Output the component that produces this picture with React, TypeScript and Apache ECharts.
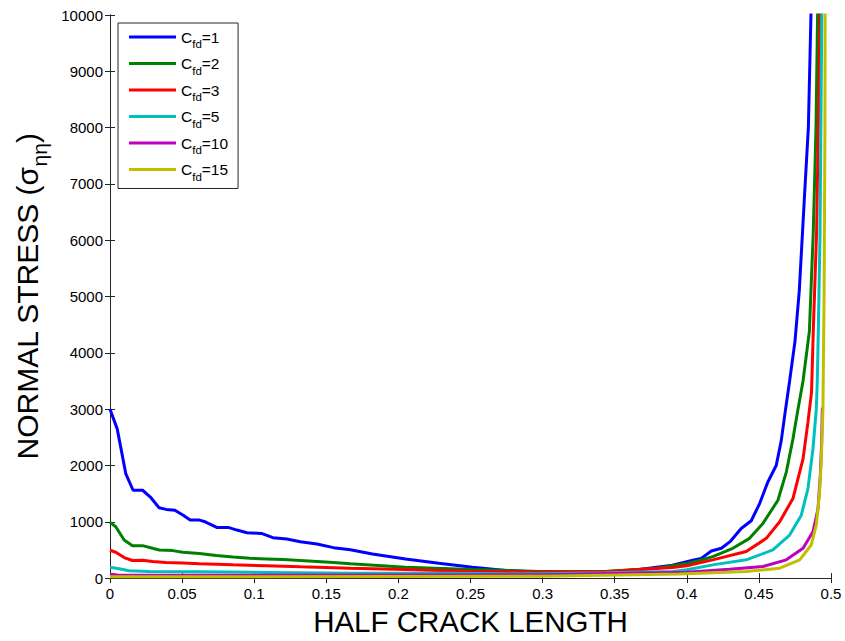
import React, { useEffect, useRef } from "react";
import * as echarts from "echarts";

const seriesNames = ["Cfd=1", "Cfd=2", "Cfd=3", "Cfd=5", "Cfd=10", "Cfd=15"];
const seriesColors = ["#0000FF", "#008000", "#FF0000", "#00BFBF", "#BF00BF", "#BFBF00"];

const xTicks = { min: 0, max: 0.5, interval: 0.05 };
const yTicks = { min: 0, max: 10000, interval: 1000 };

const cfd1: [number, number][] = [
  [0, 3000], [0.005, 2650], [0.011, 1850], [0.016, 1560], [0.0226, 1560], [0.028, 1440],
  [0.034, 1250], [0.039, 1220], [0.045, 1205], [0.0505, 1120], [0.0556, 1030], [0.062, 1030],
  [0.066, 1000], [0.074, 900], [0.082, 900], [0.088, 853], [0.095, 806], [0.105, 794],
  [0.113, 718], [0.1226, 694], [0.132, 647], [0.1435, 606], [0.155, 541], [0.1667, 505],
  [0.182, 429], [0.205, 341], [0.228, 265], [0.2514, 194], [0.2745, 135], [0.298, 106],
  [0.321, 106], [0.344, 106], [0.367, 153], [0.39, 230], [0.4, 290], [0.405, 320],
  [0.41, 350], [0.417, 480], [0.424, 529], [0.43, 647], [0.4377, 882], [0.4447, 1018],
  [0.4505, 1324], [0.4562, 1706], [0.462, 2000], [0.4655, 2441], [0.4685, 3000], [0.4713, 3500],
  [0.475, 4200], [0.478, 5100], [0.4815, 6730], [0.4843, 8000], [0.4861, 10000], [0.4875, 11500],
];

const cfd2: [number, number][] = [
  [0, 990], [0.004, 912], [0.0098, 676], [0.0156, 576], [0.0226, 576], [0.0295, 529],
  [0.0342, 500], [0.0435, 488], [0.0505, 459], [0.062, 435], [0.0737, 400], [0.0853, 376],
  [0.097, 353], [0.1086, 341], [0.12, 329], [0.132, 312], [0.1435, 294], [0.155, 276],
  [0.1667, 253], [0.205, 194], [0.2514, 153], [0.2977, 118], [0.344, 118], [0.379, 176],
  [0.4, 260], [0.4088, 312], [0.418, 382], [0.4319, 529], [0.4435, 706], [0.4528, 971],
  [0.4632, 1382], [0.469, 1882], [0.4736, 2470], [0.4771, 3000], [0.4806, 3500], [0.485, 4380],
  [0.4877, 6140], [0.4896, 8000], [0.4907, 10000], [0.4917, 11500],
];

const cfd3: [number, number][] = [
  [0, 494], [0.004, 459], [0.0098, 365], [0.0156, 312], [0.0226, 318], [0.0295, 294],
  [0.0388, 276], [0.0505, 270], [0.062, 253], [0.0853, 235], [0.1086, 218], [0.132, 200],
  [0.1667, 176], [0.205, 153], [0.2514, 118], [0.2977, 106], [0.344, 118], [0.39, 190],
  [0.4, 220], [0.418, 324], [0.4412, 471], [0.4551, 706], [0.4644, 1000], [0.4736, 1412],
  [0.4806, 2118], [0.484, 2765], [0.4865, 3300], [0.4877, 4380], [0.49, 6140], [0.4912, 8000],
  [0.4924, 10000], [0.4932, 11500],
];

const cfd5: [number, number][] = [
  [0, 194], [0.0063, 165], [0.0133, 129], [0.027, 118], [0.062, 112], [0.1086, 100],
  [0.1667, 88], [0.2282, 85], [0.2977, 76], [0.344, 94], [0.3903, 118], [0.4, 150],
  [0.418, 235], [0.4412, 324], [0.4597, 500], [0.4713, 765], [0.4794, 1118], [0.484, 1588],
  [0.4875, 2294], [0.4898, 3000], [0.4905, 3500], [0.4912, 4380], [0.4924, 6140], [0.4935, 9660],
  [0.4942, 11500],
];

const cfd10: [number, number][] = [
  [0, 70], [0.005, 55], [0.02, 50], [0.1, 50], [0.2, 55], [0.3, 60], [0.4, 105],
  [0.4296, 159], [0.4528, 206], [0.469, 324], [0.4806, 529], [0.4875, 824], [0.491, 1235],
  [0.4926, 1824], [0.4935, 2412], [0.494, 3030],
];

const cfd15: [number, number][] = [
  [0, 25], [0.1, 25], [0.2, 28], [0.3, 32], [0.3949, 71], [0.4412, 118], [0.4644, 176],
  [0.4783, 324], [0.4863, 588], [0.4898, 941], [0.4921, 1529], [0.4933, 2118], [0.4944, 3000],
  [0.4952, 5000], [0.4958, 8000], [0.496, 11000],
];

const seriesData = [cfd1, cfd2, cfd3, cfd5, cfd10, cfd15];

const FONT = "'Liberation Sans', Arial, sans-serif";

export default function App() {
  const ref = useRef<HTMLDivElement>(null);
  useEffect(() => {
    document.body.style.margin = "0";
    if (!ref.current) return;
    const chart = echarts.init(ref.current, null, { renderer: "svg" });
    const axisLineStyle = { color: "#262626", width: 1 };
    const option: any = {
      animation: false,
      backgroundColor: "#fff",
      textStyle: { fontFamily: FONT },
      grid: { left: 110, right: 14, top: 15, bottom: 59, show: false },
      legend: {
        orient: "vertical",
        left: 118,
        top: 23,
        icon: "rect",
        itemWidth: 47,
        itemHeight: 3,
        itemGap: 5.5,
        padding: [6, 10, 6, 11],
        backgroundColor: "#fff",
        borderColor: "#262626",
        borderWidth: 1,
        borderRadius: 0,
        data: seriesNames,
        formatter: (name: string) => `{c|C}{s|fd}{c|${name.slice(3)}}`,
        textStyle: {
          color: "#000",
          fontFamily: FONT,
          rich: {
            c: { fontSize: 15.5, fontFamily: FONT, color: "#000", lineHeight: 24, verticalAlign: "middle" },
            s: { fontSize: 11.5, fontFamily: FONT, color: "#000", lineHeight: 26, verticalAlign: "bottom" },
          },
        },
      },
      xAxis: [
        {
          type: "value",
          min: xTicks.min,
          max: xTicks.max,
          interval: xTicks.interval,
          position: "bottom",
          name: "HALF CRACK LENGTH",
          nameLocation: "middle",
          nameGap: 23,
          nameTextStyle: { fontSize: 29.5, color: "#000", fontFamily: FONT },
          axisLine: { show: true, lineStyle: axisLineStyle },
          axisTick: { show: true, inside: true, length: 5, lineStyle: axisLineStyle },
          axisLabel: { fontSize: 15, color: "#000", margin: 8, fontFamily: FONT },
          splitLine: { show: false },
        },
        {
          type: "value",
          min: xTicks.min,
          max: xTicks.max,
          interval: xTicks.interval,
          position: "top",
          axisLine: { show: true, lineStyle: axisLineStyle },
          axisTick: { show: true, inside: true, length: 5, lineStyle: axisLineStyle },
          axisLabel: { show: false },
          splitLine: { show: false },
        },
      ],
      yAxis: [
        {
          type: "value",
          min: yTicks.min,
          max: yTicks.max,
          interval: yTicks.interval,
          position: "left",
          name: "{a|NORMAL STRESS (σ}{s|ηη}{a|)}",
          nameLocation: "middle",
          nameGap: 60,
          nameRotate: 90,
          nameTextStyle: {
            color: "#000",
            fontFamily: FONT,
            rich: {
              a: { fontSize: 30, fontFamily: FONT, color: "#000", lineHeight: 40, verticalAlign: "middle" },
              s: { fontSize: 21, fontFamily: FONT, color: "#000", lineHeight: 46, verticalAlign: "bottom" },
            },
          },
          axisLine: { show: true, lineStyle: axisLineStyle },
          axisTick: { show: true, inside: true, length: 5, lineStyle: axisLineStyle },
          axisLabel: {
            fontSize: 15,
            color: "#000",
            margin: 7,
            fontFamily: FONT,
            formatter: (v: number) => String(v),
          },
          splitLine: { show: false },
        },
        {
          type: "value",
          min: yTicks.min,
          max: yTicks.max,
          interval: yTicks.interval,
          position: "right",
          axisLine: { show: true, lineStyle: axisLineStyle },
          axisTick: { show: true, inside: true, length: 5, lineStyle: axisLineStyle },
          axisLabel: { show: false },
          splitLine: { show: false },
        },
      ],
      series: seriesNames.map((name, i) => ({
        name,
        type: "line",
        xAxisIndex: 0,
        yAxisIndex: 0,
        data: seriesData[i],
        showSymbol: false,
        symbol: "none",
        clip: true,
        lineStyle: { color: seriesColors[i], width: 3 },
        itemStyle: { color: seriesColors[i] },
        z: 2 + i,
      })),
    };
    chart.setOption(option);
    return () => chart.dispose();
  }, []);
  return <div ref={ref} style={{ width: 845, height: 641 }} />;
}
